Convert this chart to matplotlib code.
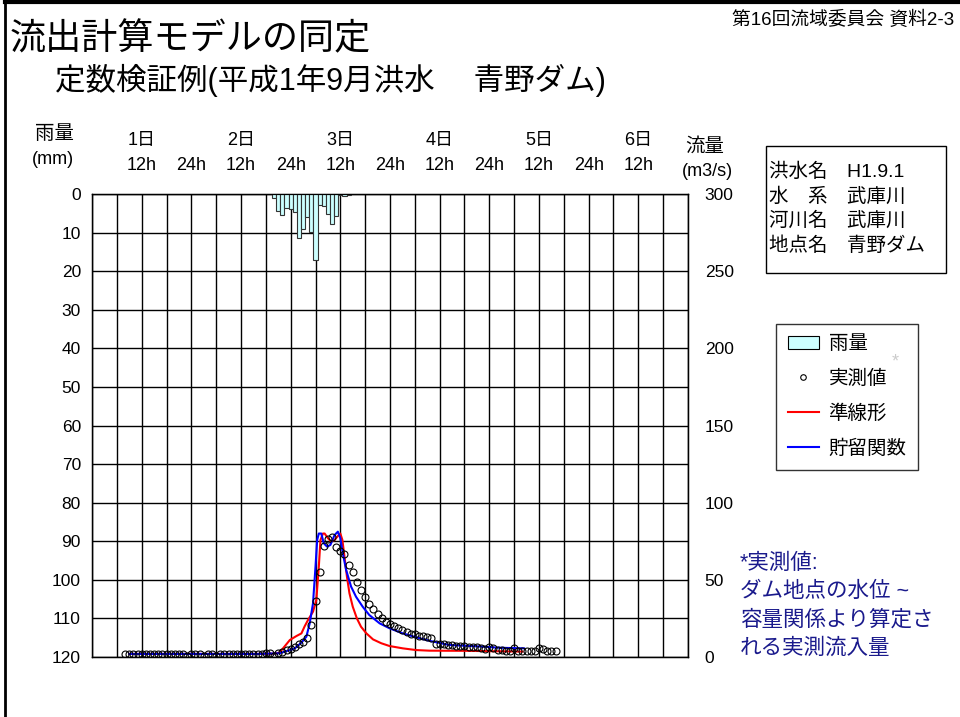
import numpy as np
import matplotlib
matplotlib.use("Agg")
import matplotlib.pyplot as plt
from matplotlib.patches import Patch, Rectangle
from matplotlib.lines import Line2D

plt.rcParams['font.family'] = ['Liberation Sans', 'Noto Sans CJK JP', 'DejaVu Sans']

# hourly rainfall (mm), bars centred on these hours
rain_hours = np.arange(44, 63)
rain_mm = [1.0, 4.5, 5.5, 3.5, 3.8, 4.7, 11.4, 9.2, 6.0, 9.8, 17.0,
           2.8, 3.2, 5.1, 7.7, 5.6, 0.3, 0.5, 0.3]

# observed inflow (m3/s), hourly from hour 8 to 112
obs_hours = np.arange(8, 113)
obs_q = [2.0, 2.0, 2.0, 2.0, 2.0, 2.0, 2.0, 2.0, 2.0, 2.0, 2.0, 2.0, 2.0,
         2.2, 2.2, 0.8, 2.2, 2.0, 2.2, 0.8, 2.2, 2.2, 0.8, 2.0, 2.2, 2.2,
         2.2, 2.2, 2.2, 2.2, 2.2, 2.2, 2.2, 2.2, 2.5, 2.5, 0.8, 2.8, 3.4,
         4.5, 5.5, 6.7, 8.5, 10.0, 12.0, 21.0, 36.0, 55.0, 72.0, 76.5, 77.5,
         71.0, 69.0, 67.0, 59.5, 55.0, 48.5, 43.5, 39.0, 34.5, 31.0, 28.0,
         25.2, 23.0, 21.2, 19.8, 18.7, 17.2, 16.2, 15.2, 14.6, 13.6, 13.6,
         13.2, 12.0, 8.5, 8.5, 8.2, 7.8, 7.5, 7.3, 7.2, 7.0, 6.8, 6.5, 6.2,
         6.0, 5.0, 6.5, 6.0, 4.5, 4.3, 4.2, 4.1, 6.0, 4.0, 3.9, 3.9, 3.9,
         3.9, 5.6, 5.2, 4.0, 3.9, 3.9]

# quasi-linear model
red_h = [9, 20, 30, 40, 44, 45.3, 47.8, 49.4, 50.6, 51.4, 52.2, 53.4, 54.2,
         54.8, 55.2, 55.8, 56.2, 57, 57.8, 58.6, 59.4, 60, 60.5, 61, 61.6,
         62.2, 63, 64, 65, 66.3, 67.9, 69.9, 71.9, 75.1, 78.3, 81.5, 90, 104]
red_q = [2.0, 2.0, 2.0, 2.0, 2.2, 2.8, 11, 13.6, 15.3, 20, 24, 29.4, 37,
         58.5, 75.8, 80, 80, 77, 74.7, 75.8, 78.4, 80, 75.8, 65, 52, 41.3,
         32.6, 25, 19.6, 15.3, 11.4, 8.9, 7.1, 5.6, 4.5, 4.1, 4.0, 3.5]

# storage function model
blue_h = [9, 20, 30, 40, 45.3, 47.8, 49, 50.6, 51.8, 52.6, 53.4, 54, 54.4,
          54.8, 55.4, 56, 56.8, 57.6, 58.6, 59.4, 60, 60.6, 61.4, 62.6, 63.8,
          65.4, 67, 69.5, 71.9, 75.1, 78.3, 81.5, 86.3, 94.4, 98.4, 104.4]
blue_q = [2.0, 2.0, 2.0, 2.0, 2.4, 4.5, 5.6, 9.3, 13.2, 21.8, 34.8, 58.5,
          75.8, 80, 80, 73.7, 71.5, 72.6, 79, 81.2, 77, 67.2, 56.4, 45.6, 39,
          32.6, 27.2, 21.8, 18.6, 15.3, 12.8, 10.5, 7.8, 6.7, 6.0, 5.6]

day_labels = ['1日', '2日', '3日', '4日', '5日', '6日']
hour_ticks = np.arange(12, 133, 12)
hour_labels = ['12h' if t % 24 == 12 else '24h' for t in hour_ticks]

W, H = 960, 717
fig = plt.figure(figsize=(W / 100, H / 100), dpi=100)

def fx(px):
    return px / W

def fy(py):
    return 1 - py / H

ax = fig.add_axes([fx(92), fy(657), fx(688) - fx(92), fy(194) - fy(657)])
ax.bar(rain_hours, rain_mm, width=1.0, color='#ccffff', edgecolor='#333333',
       linewidth=0.8, zorder=3)
ax.set_xlim(0, 144)
ax.set_ylim(120, 0)
ax.set_xticks(np.arange(0, 145, 6))
ax.set_yticks(np.arange(0, 121, 10))
ax.set_xticklabels([])
ax.tick_params(axis='both', length=0, labelsize=12.5, pad=8)
ax.grid(True, color='black', linewidth=1.0)
ax.set_axisbelow(True)
for s in ax.spines.values():
    s.set_color('black')
    s.set_linewidth(1.0)

ax2 = ax.twinx()
ax2.set_ylim(0, 300)
ax2.set_yticks(np.arange(0, 301, 50))
ax2.tick_params(axis='y', length=0, labelsize=12.5, pad=12)
ax2.plot(red_h, red_q, color='#ff0000', linewidth=1.5, zorder=3)
ax2.plot(blue_h, blue_q, color='#0000ff', linewidth=1.5, zorder=4)
ax2.plot(obs_hours, obs_q, linestyle='none', marker='o', markersize=5,
         markerfacecolor='none', markeredgecolor='black',
         markeredgewidth=0.8, zorder=5)

# x labels (two rows above the plot)
for i, t in enumerate(hour_ticks):
    x = fx(92) + t / 144 * (fx(688) - fx(92))
    fig.text(x, fy(165), hour_labels[i], ha='center', va='center', fontsize=13)
    if t % 24 == 12:
        fig.text(x, fy(140), day_labels[t // 24], ha='center', va='center',
                 fontsize=13)

fig.text(fx(55), fy(134), '雨量', ha='center', va='center', fontsize=14)
fig.text(fx(53), fy(160), '(mm)', ha='center', va='center', fontsize=13)
fig.text(fx(705), fy(147), '流量', ha='center', va='center', fontsize=14)
fig.text(fx(707), fy(172), '(m3/s)', ha='center', va='center', fontsize=13)

# titles
fig.text(fx(10), fy(40), '流出計算モデルの同定', ha='left', va='center',
         fontsize=26)
fig.text(fx(55), fy(80), '定数検証例(平成1年9月洪水\u3000 青野ダム)',
         ha='left', va='center', fontsize=22)
fig.text(fx(954), fy(20), '第16回流域委員会 資料2-3', ha='right', va='center',
         fontsize=13.5)

# page frame lines
fig.add_artist(Line2D([fx(5), fx(5)], [0, 1], color='black', linewidth=2))
fig.add_artist(Line2D([fx(5), 1], [fy(2), fy(2)], color='black', linewidth=3))

# info box
fig.add_artist(Rectangle((fx(766), fy(273)), fx(946) - fx(766),
                         fy(146) - fy(273), facecolor='white',
                         edgecolor='black', linewidth=1.0))
info = ['洪水名\u3000H1.9.1', '水\u3000系\u3000武庫川', '河川名\u3000武庫川',
        '地点名\u3000青野ダム']
for i, line in enumerate(info):
    fig.text(fx(769), fy(172 + 24.5 * i), line, ha='left', va='center',
             fontsize=14)

# legend
handles = [Patch(facecolor='#ccffff', edgecolor='black', linewidth=0.8),
           Line2D([], [], linestyle='none', marker='o', markersize=4,
                  markerfacecolor='none', markeredgecolor='black',
                  markeredgewidth=0.8),
           Line2D([], [], color='#ff0000', linewidth=1.5),
           Line2D([], [], color='#0000ff', linewidth=1.5)]
labels = ['雨量', '実測値', '準線形', '貯留関数']
leg = fig.legend(handles, labels, loc='upper left',
                 bbox_to_anchor=(fx(776), fy(324)), fontsize=14,
                 frameon=True, fancybox=False, edgecolor='black',
                 labelspacing=0.85, handlelength=1.6, handletextpad=0.5,
                 borderpad=0.6, borderaxespad=0)
leg.get_frame().set_linewidth(1.0)
fig.text(fx(895), fy(362), '*', ha='center', va='center', fontsize=13,
         color='black')

# note
note = ['*実測値:', 'ダム地点の水位 ~', '容量関係より算定さ', 'れる実測流入量']
for i, line in enumerate(note):
    fig.text(fx(740), fy(563 + 28.5 * i), line, ha='left', va='center',
             fontsize=15.5, color='#1a1a8c')

fig.savefig('out.png', dpi=100)
